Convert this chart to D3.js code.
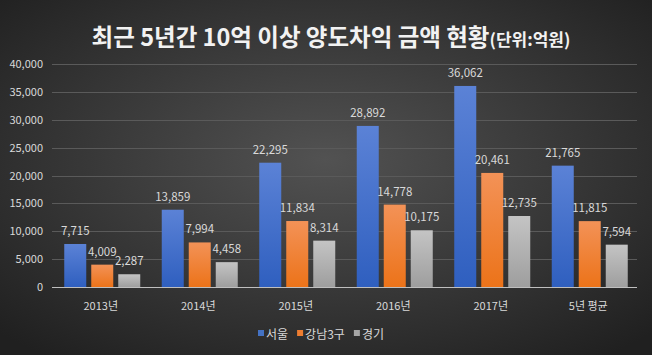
<!DOCTYPE html>
<html><head><meta charset="utf-8">
<script src="https://cdn.jsdelivr.net/npm/d3@7"></script>
<style>html,body{margin:0;padding:0;background:#333;}svg{display:block;}</style>
</head><body>
<svg id="c" width="652" height="355"></svg>
<script>
const categories = ["2013년","2014년","2015년","2016년","2017년","5년 평균"];
const seriesNames = ["서울","강남3구","경기"];
const seoul = [7715,13859,22295,28892,36062,21765];
const gangnam = [4009,7994,11834,14778,20461,11815];
const gyeonggi = [2287,4458,8314,10175,12735,7594];
const yTicks = [0,5000,10000,15000,20000,25000,30000,35000,40000];

const W=652,H=355;
const svg=d3.select("#c");
const defs=svg.append("defs");
const bg=defs.append("radialGradient").attr("id","bg").attr("cx","50%").attr("cy","45%").attr("r","70%");
bg.append("stop").attr("offset","0%").attr("stop-color","#525252");
bg.append("stop").attr("offset","100%").attr("stop-color","#202020");
svg.append("rect").attr("width",W).attr("height",H).attr("fill","url(#bg)");

const grads=[["#5b82d6","#2f5fbf"],["#f39257","#ec7319"],["#c4c4c4","#9e9e9e"]];
grads.forEach((g,i)=>{
  const lg=defs.append("linearGradient").attr("id","g"+i).attr("x1",0).attr("y1",0).attr("x2",0).attr("y2",1);
  lg.append("stop").attr("offset","0%").attr("stop-color",g[0]);
  lg.append("stop").attr("offset","100%").attr("stop-color",g[1]);
});
const colors=["#4472c4","#ed7d31","#a5a5a5"];
const series=[seoul,gangnam,gyeonggi];

const x=d3.scaleBand().domain(categories).range([52,637]).paddingInner(0).paddingOuter(0);
const y=d3.scaleLinear().domain([0,40000]).range([287,64]);
const font="'Noto Sans CJK KR','Malgun Gothic',sans-serif";

// grid
svg.append("g").selectAll("line").data(yTicks.slice(1)).join("line")
  .attr("x1",52).attr("x2",637).attr("y1",d=>Math.round(y(d))+0.5).attr("y2",d=>Math.round(y(d))+0.5)
  .attr("stroke","#5a5a5a").attr("stroke-width",1);

// y labels
svg.append("g").selectAll("text").data(yTicks).join("text")
  .attr("x",43).attr("y",d=>y(d)+4).attr("text-anchor","end")
  .attr("font-family",font).attr("font-size",11).attr("fill","#d9d9d9")
  .text(d=>d3.format(",")(d));

const bw=22, gap=5;
series.forEach((vals,si)=>{
  const off=(si-1)*(bw+gap)-bw/2;
  const g=svg.append("g");
  g.selectAll("rect").data(vals).join("rect")
    .attr("x",(d,i)=>x(categories[i])+x.bandwidth()/2+off+1.5)
    .attr("y",d=>y(d)).attr("width",bw).attr("height",d=>y(0)-y(d))
    .attr("fill","url(#g"+si+")");
  g.selectAll("text").data(vals).join("text")
    .attr("x",(d,i)=>x(categories[i])+x.bandwidth()/2+off+1.5+bw/2)
    .attr("y",d=>y(d)-9).attr("text-anchor","middle")
    .attr("font-family",font).attr("font-size",11.5).attr("fill","#d9d9d9")
    .text(d=>d3.format(",")(d));
});

// baseline
svg.append("line").attr("x1",52).attr("x2",637).attr("y1",287.5).attr("y2",287.5)
  .attr("stroke","#bfbfbf").attr("stroke-width",1);

// x labels
svg.append("g").selectAll("text").data(categories).join("text")
  .attr("x",d=>x(d)+x.bandwidth()/2).attr("y",310).attr("text-anchor","middle")
  .attr("font-family",font).attr("font-size",11).attr("fill","#d9d9d9")
  .text(d=>d);

// title
const t=svg.append("text").attr("x",331).attr("y",46).attr("text-anchor","middle")
  .attr("font-family",font).attr("font-weight",700).attr("fill","#f2f2f2");
t.append("tspan").attr("font-size",23.5).text("최근 5년간 10억 이상 양도차익 금액 현황");
t.append("tspan").attr("font-size",17).text("(단위:억원)");

// legend
const lg=svg.append("g");
let lx=258;
seriesNames.forEach((n,i)=>{
  lg.append("rect").attr("x",lx).attr("y",330).attr("width",6).attr("height",6).attr("fill",colors[i]);
  const tx=lg.append("text").attr("x",lx+8).attr("y",338.5).attr("font-family",font).attr("font-size",12).attr("fill","#d9d9d9").text(n);
  lx+=8+tx.node().getComputedTextLength()+9;
});
</script>
</body></html>
